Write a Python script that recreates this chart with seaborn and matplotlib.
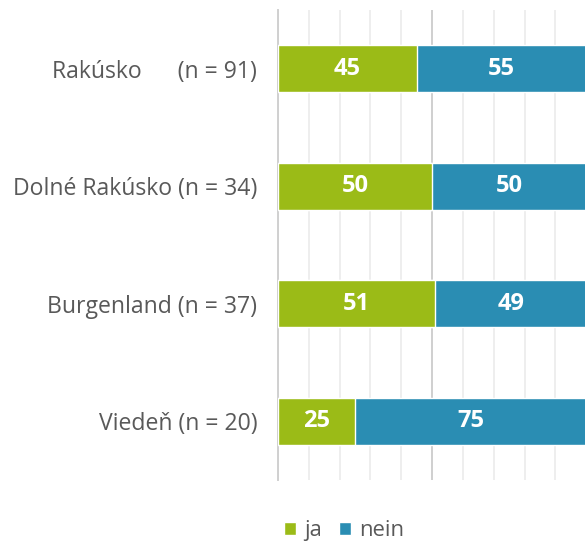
import matplotlib
matplotlib.use("Agg")
import matplotlib.pyplot as plt
import seaborn as sns
import pandas as pd
from matplotlib.patches import Patch

regions = ["Rakúsko", "Dolné Rakúsko", "Burgenland", "Viedeň"]
counts = [91, 34, 37, 20]
ja = [45, 50, 51, 25]
nein = [55, 50, 49, 75]
series_names = ["ja", "nein"]

GREEN = "#9bbb17"
BLUE = "#2a8db3"
TEXT = "#595959"

sns.set_theme(style="white")
plt.rcParams["font.family"] = ["Open Sans", "DejaVu Sans"]

df = pd.DataFrame({"region": regions, "ja": ja, "nein": nein})
df["total"] = df["ja"] + df["nein"]

fig = plt.figure(figsize=(5.85, 5.46), dpi=100)
ax = fig.add_axes([0.4752, 0.1209, 0.527, 0.8608])

# stacked bars: full length in blue, "ja" share drawn over it in green
sns.barplot(data=df, y="region", x="total", color=BLUE, orient="h",
            width=0.4, ax=ax, saturation=1, zorder=3)
sns.barplot(data=df, y="region", x="ja", color=GREEN, orient="h",
            width=0.4, ax=ax, saturation=1, zorder=3)

for i, (a, b) in enumerate(zip(ja, nein)):
    ax.text(a / 2, i, f"{a}", ha="center", va="center", color="white",
            fontsize=17, fontweight="bold", zorder=4)
    ax.text(a + b / 2, i, f"{b}", ha="center", va="center", color="white",
            fontsize=17, fontweight="bold", zorder=4)

ax.set_xlim(0, 100)
ax.set_ylim(3.5, -0.5)
ax.set_xlabel("")
ax.set_ylabel("")
ax.set_xticks(range(0, 101, 10))
ax.set_xticklabels([])
ax.tick_params(axis="x", length=0)
ax.tick_params(axis="y", length=0, pad=15)

ax.xaxis.grid(True, color="#ebebeb", linewidth=1.2, zorder=0)
ax.axvline(50, color="#d0d0d0", linewidth=1.4, zorder=1)
for s in ["top", "right", "bottom"]:
    ax.spines[s].set_visible(False)
ax.spines["left"].set_color("#d0d0d0")
ax.spines["left"].set_linewidth(1.4)

labels = []
for r, n in zip(regions, counts):
    if r == "Rakúsko":
        labels.append(f"{r}      (n = {n})")
    else:
        labels.append(f"{r} (n = {n})")
ax.set_yticks(range(len(regions)))
ax.set_yticklabels(labels, fontsize=16.6, color=TEXT)

handles = [Patch(facecolor=GREEN, label=series_names[0]),
           Patch(facecolor=BLUE, label=series_names[1])]
fig.legend(handles=handles, loc="center", bbox_to_anchor=(0.588, 0.028),
           ncol=2, frameon=False, fontsize=15.8, labelcolor=TEXT,
           handlelength=0.55, handleheight=0.55, handletextpad=0.35,
           columnspacing=0.8)

fig.savefig("out.png", dpi=100)
